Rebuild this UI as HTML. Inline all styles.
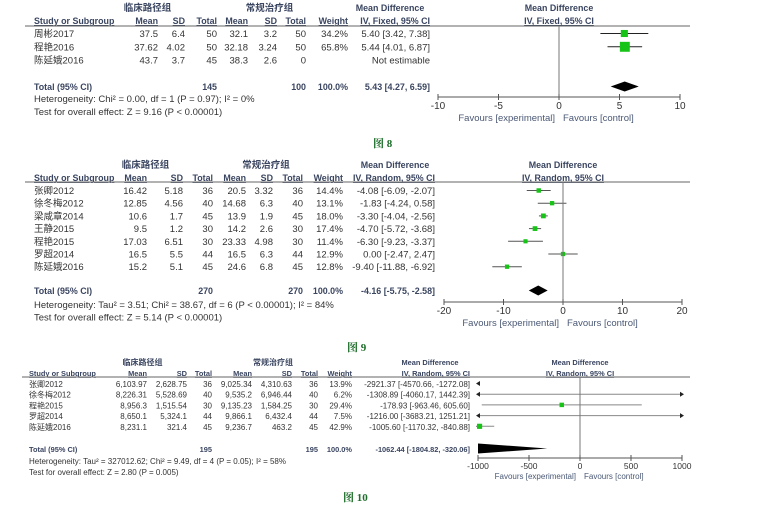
<!DOCTYPE html>
<html><head><meta charset="utf-8">
<style>
html,body{margin:0;padding:0;background:#fff;}
svg{display:block;font-family:"Liberation Sans","Noto Sans CJK SC",sans-serif;}
</style></head>
<body>
<svg id="chart" width="762" height="506" viewBox="0 0 762 506"></svg>
<script>
// ---- Figure 8 data ----
const p1Studies=["周彬2017","程艳2016","陈延娥2016"];
const p1Mean1=["37.5","37.62","43.7"];const p1SD1=["6.4","4.02","3.7"];const p1N1=["50","50","45"];
const p1Mean2=["32.1","32.18","38.3"];const p1SD2=["3.2","3.24","2.6"];const p1N2=["50","50","0"];
const p1Weight=[34.2,65.8,null];
const p1MD=[5.40,5.44,null];const p1Lo=[3.42,4.01,null];const p1Hi=[7.38,6.87,null];
const p1Total=[5.43,4.27,6.59];
const p1Ticks=[-10,-5,0,5,10];
// ---- Figure 9 data ----
const p2Studies=["张卿2012","徐冬梅2012","梁咸章2014","王静2015","程艳2015","罗超2014","陈延娥2016"];
const p2Mean1=["16.42","12.85","10.6","9.5","17.03","16.5","15.2"];
const p2SD1=["5.18","4.56","1.7","1.2","6.51","5.5","5.1"];
const p2N1=["36","40","45","30","30","44","45"];
const p2Mean2=["20.5","14.68","13.9","14.2","23.33","16.5","24.6"];
const p2SD2=["3.32","6.3","1.9","2.6","4.98","6.3","6.8"];
const p2N2=["36","40","45","30","30","44","45"];
const p2Weight=[14.4,13.1,18.0,17.4,11.4,12.9,12.8];
const p2MD=[-4.08,-1.83,-3.30,-4.70,-6.30,0.00,-9.40];
const p2Lo=[-6.09,-4.24,-4.04,-5.72,-9.23,-2.47,-11.88];
const p2Hi=[-2.07,0.58,-2.56,-3.68,-3.37,2.47,-6.92];
const p2Total=[-4.16,-5.75,-2.58];
const p2Ticks=[-20,-10,0,10,20];
// ---- Figure 10 data ----
const p3Studies=["张卿2012","徐冬梅2012","程艳2015","罗超2014","陈延娥2016"];
const p3Mean1=["6,103.97","8,226.31","8,956.3","8,650.1","8,231.1"];
const p3SD1=["2,628.75","5,528.69","1,515.54","5,324.1","321.4"];
const p3N1=["36","40","30","44","45"];
const p3Mean2=["9,025.34","9,535.2","9,135.23","9,866.1","9,236.7"];
const p3SD2=["4,310.63","6,946.44","1,584.25","6,432.4","463.2"];
const p3N2=["36","40","30","44","45"];
const p3Weight=[13.9,6.2,29.4,7.5,42.9];
const p3MD=[-2921.37,-1308.89,-178.93,-1216.00,-1005.60];
const p3Lo=[-4570.66,-4060.17,-963.46,-3683.21,-1170.32];
const p3Hi=[-1272.08,1442.39,605.60,1251.21,-840.88];
const p3Total=[-1062.44,-1804.82,-320.06];
const p3Ticks=[-1000,-500,0,500,1000];

const NS="http://www.w3.org/2000/svg";
const svg=document.getElementById('chart');
function mk(tag,attrs,parent){const e=document.createElementNS(NS,tag);for(const k in attrs)e.setAttribute(k,attrs[k]);(parent||svg).appendChild(e);return e;}
function txt(s,x,y,o,parent){o=o||{};const t=mk('text',{x:x,y:y,'font-size':o.fs||9.5,fill:o.fill||'#333','text-anchor':o.anchor||'start','font-weight':o.bold?'bold':'normal'},parent);
if(o.ul)t.setAttribute('text-decoration','underline');t.textContent=s;return t;}
function fmt(v){return v.toFixed(2);}

function panel(cfg){
  const g=mk('g',{});
  
  
  const fs=cfg.fs, hfs=cfg.fs-0.6, hc='#3a4560';
  const c=cfg.cols;
  const h1=txt('临床路径组',(c.studyX+c.n1)/2+22,cfg.yGrp,{fs:fs,fill:hc,bold:true,anchor:'middle'},g);
  
  const h2=txt('常规治疗组',(c.n1+c.n2)/2+8,cfg.yGrp,{fs:fs,fill:hc,bold:true,anchor:'middle'},g);
  
  txt('Mean Difference',c.ci-40,cfg.yGrp,{fs:hfs,fill:hc,bold:true,anchor:'middle'},g);
  txt('Mean Difference',cfg.x0,cfg.yGrp,{fs:hfs,fill:hc,bold:true,anchor:'middle'},g);
  const yh=cfg.yHead;
  txt('Study or Subgroup',c.studyX,yh,{fs:hfs,fill:hc,bold:true,ul:true},g);
  [['Mean',c.m1],['SD',c.sd1],['Total',c.n1],['Mean',c.m2],['SD',c.sd2],['Total',c.n2],['Weight',c.w],[cfg.model,c.ci]].forEach(a=>txt(a[0],a[1],yh,{fs:hfs,fill:hc,bold:true,anchor:'end',ul:true},g));
  txt(cfg.model,cfg.x0,yh,{fs:hfs,fill:hc,bold:true,anchor:'middle',ul:true},g);
  const hl=mk('line',{x1:cfg.lineX0,x2:690,y1:cfg.yLine,y2:cfg.yLine,stroke:'#666','stroke-width':1},g);
  
  const xs=v=>cfg.x0+(v)*(cfg.x1-cfg.x0)/cfg.max;
  const dmin=-cfg.max,dmax=cfg.max;
  cfg.studies.forEach((s,i)=>{
    const y=cfg.yRow0+i*cfg.step;
    const r=mk('g',{},g);
    
    txt(s,c.studyX,y,{fs:fs},r);
    txt(cfg.m1[i],c.m1,y,{fs:fs,anchor:'end'},r);txt(cfg.sd1[i],c.sd1,y,{fs:fs,anchor:'end'},r);txt(cfg.n1[i],c.n1,y,{fs:fs,anchor:'end'},r);
    txt(cfg.m2[i],c.m2,y,{fs:fs,anchor:'end'},r);txt(cfg.sd2[i],c.sd2,y,{fs:fs,anchor:'end'},r);txt(cfg.n2[i],c.n2,y,{fs:fs,anchor:'end'},r);
    if(cfg.w[i]!=null){txt(cfg.w[i].toFixed(1)+'%',c.w,y,{fs:fs,anchor:'end'},r);
      txt(fmt(cfg.md[i])+' ['+fmt(cfg.lo[i])+', '+fmt(cfg.hi[i])+']',c.ci,y,{fs:fs,anchor:'end'},r);}
    else txt('Not estimable',c.ci,y,{fs:fs,anchor:'end'},r);
    if(cfg.md[i]==null) return;
    const yc=y-3.5;
    const lo=Math.max(cfg.lo[i],dmin),hi=Math.min(cfg.hi[i],dmax);
    if(hi>=dmin && lo<=dmax){
      const ln=mk('line',{x1:xs(lo),x2:xs(hi),y1:yc,y2:yc,stroke:cfg.ciColor,'stroke-width':1},g);
      
    }
    if(cfg.lo[i]<dmin){const a=mk('path',{d:`M${xs(dmin)-2},${yc} l4,-2.5 v5 z`,fill:'#222'},g);}
    if(cfg.hi[i]>dmax){const a=mk('path',{d:`M${xs(dmax)+2},${yc} l-4,-2.5 v5 z`,fill:'#222'},g);}
    if(cfg.md[i]>=dmin-cfg.max*0.02 && cfg.md[i]<=dmax){
      const sz=cfg.sq(cfg.w[i]);const mx=Math.max(xs(cfg.md[i]),xs(dmin)+sz/2-1);
      const sq=mk('rect',{x:mx-sz/2,y:yc-sz/2,width:sz,height:sz,fill:'#16c316'},g);
      
    }
  });
  const yt=cfg.yTotal;
  txt('Total (95% CI)',c.studyX,yt,{fs:hfs,fill:hc,bold:true},g);
  txt(cfg.totN1,c.n1,yt,{fs:hfs,fill:hc,bold:true,anchor:'end'},g);
  txt(cfg.totN2,c.n2,yt,{fs:hfs,fill:hc,bold:true,anchor:'end'},g);
  txt('100.0%',c.w,yt,{fs:hfs,fill:hc,bold:true,anchor:'end'},g);
  txt(fmt(cfg.tot[0])+' ['+fmt(cfg.tot[1])+', '+fmt(cfg.tot[2])+']',c.ci,yt,{fs:hfs,fill:hc,bold:true,anchor:'end'},g);
  const yd=yt-3.5,hh=cfg.dh;
  const L=xs(Math.max(cfg.tot[1],dmin)),C=xs(Math.max(cfg.tot[0],dmin)),R=xs(Math.min(cfg.tot[2],dmax));
  const dm=mk('path',{d:`M${L},${yd} L${C},${yd-hh} L${R},${yd} L${C},${yd+hh} Z`,fill:'#000'},g);
  
  txt(cfg.het,c.studyX,cfg.yHet,{fs:fs},g);
  txt(cfg.test,c.studyX,cfg.yHet+cfg.lh,{fs:fs},g);
  const zl=mk('line',{x1:xs(0),x2:xs(0),y1:cfg.yLine,y2:cfg.yAxis,stroke:'#777','stroke-width':1},g);
  
  const ax=mk('line',{x1:xs(dmin),x2:xs(dmax),y1:cfg.yAxis,y2:cfg.yAxis,stroke:'#555','stroke-width':1},g);
  
  cfg.ticks.forEach(t=>{
    mk('line',{x1:xs(t),x2:xs(t),y1:cfg.yAxis-3,y2:cfg.yAxis+3,stroke:'#555'},g);
    const tl=txt(String(t),xs(t),cfg.yAxis+cfg.tickOff,{fs:fs+0.5,anchor:'middle'},g);
    
  });
  txt('Favours [experimental]',xs(0)-4,cfg.yAxis+cfg.favOff,{fs:fs,fill:'#4a5875',anchor:'end'},g);
  txt('Favours [control]',xs(0)+4,cfg.yAxis+cfg.favOff,{fs:fs,fill:'#4a5875'},g);
  const cap=txt(cfg.caption,cfg.capX,cfg.capY,{fs:11,fill:'#1d6e2a',bold:true},g);
  cap.setAttribute('font-family','"Liberation Serif","Noto Serif CJK SC",serif');
  
}

panel({name:'figure-8-forest-plot',fs:9.5,model:'IV, Fixed, 95% CI',
  cols:{studyX:34,m1:158,sd1:185,n1:217,m2:248,sd2:277,n2:306,w:348,ci:430},
  yGrp:11,yHead:24,yLine:26,lineX0:25,yRow0:37,step:13.3,yTotal:90,yHet:102,lh:13,
  x0:559,x1:680,max:10,ticks:p1Ticks,yAxis:97,tickOff:12,favOff:24,dh:5,ciColor:'#222',
  sq:w=>4+w*0.09,
  studies:p1Studies,m1:p1Mean1,sd1:p1SD1,n1:p1N1,m2:p1Mean2,sd2:p1SD2,n2:p1N2,w:p1Weight,md:p1MD,lo:p1Lo,hi:p1Hi,
  totN1:'145',totN2:'100',tot:p1Total,
  het:'Heterogeneity: Chi² = 0.00, df = 1 (P = 0.97); I² = 0%',test:'Test for overall effect: Z = 9.16 (P < 0.00001)',
  caption:'图 8',capX:373,capY:147});

panel({name:'figure-9-forest-plot',fs:9.5,model:'IV, Random, 95% CI',
  cols:{studyX:34,m1:147,sd1:183,n1:213,m2:246,sd2:273,n2:303,w:343,ci:435},
  yGrp:168,yHead:181,yLine:182,lineX0:25,yRow0:194,step:12.7,yTotal:294,yHet:308,lh:12.5,
  x0:563,x1:682,max:20,ticks:p2Ticks,yAxis:302,tickOff:12,favOff:24,dh:5,ciColor:'#555',
  sq:w=>3+w*0.1,
  studies:p2Studies,m1:p2Mean1,sd1:p2SD1,n1:p2N1,m2:p2Mean2,sd2:p2SD2,n2:p2N2,w:p2Weight,md:p2MD,lo:p2Lo,hi:p2Hi,
  totN1:'270',totN2:'270',tot:p2Total,
  het:'Heterogeneity: Tau² = 3.51; Chi² = 38.67, df = 6 (P < 0.00001); I² = 84%',test:'Test for overall effect: Z = 5.14 (P < 0.00001)',
  caption:'图 9',capX:347,capY:351});

panel({name:'figure-10-forest-plot',fs:8,model:'IV, Random, 95% CI',
  cols:{studyX:29,m1:147,sd1:187,n1:212,m2:252,sd2:292,n2:318,w:352,ci:470},
  yGrp:365,yHead:376,yLine:377,lineX0:22,yRow0:387,step:10.7,yTotal:452,yHet:464,lh:11,
  x0:580,x1:682,max:1000,ticks:p3Ticks,yAxis:458,tickOff:11,favOff:21,dh:5,ciColor:'#888',
  sq:w=>3+w*0.05,
  studies:p3Studies,m1:p3Mean1,sd1:p3SD1,n1:p3N1,m2:p3Mean2,sd2:p3SD2,n2:p3N2,w:p3Weight,md:p3MD,lo:p3Lo,hi:p3Hi,
  totN1:'195',totN2:'195',tot:p3Total,
  het:'Heterogeneity: Tau² = 327012.62; Chi² = 9.49, df = 4 (P = 0.05); I² = 58%',test:'Test for overall effect: Z = 2.80 (P = 0.005)',
  caption:'图 10',capX:343,capY:501});
</script>
</body></html>
